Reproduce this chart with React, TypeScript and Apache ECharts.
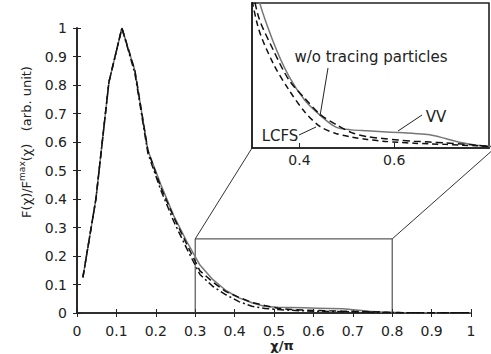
import React, { useEffect, useRef } from "react";
import * as echarts from "echarts";

// chi/pi sample positions
const X = [0.015, 0.048, 0.081, 0.114, 0.147, 0.18, 0.213, 0.246, 0.279, 0.312, 0.345, 0.378, 0.411, 0.444, 0.477, 0.51, 0.543, 0.576, 0.609, 0.642, 0.675, 0.708, 0.741, 0.774, 0.807, 0.84, 0.873, 0.906, 0.939, 0.972, 1.0];
// VV (solid grey)
const VV = [0.125, 0.4, 0.81, 1.0, 0.85, 0.57, 0.45, 0.34, 0.25, 0.168, 0.117, 0.079, 0.053, 0.036, 0.023, 0.02, 0.019, 0.018, 0.017, 0.016, 0.0145, 0.0105, 0.006, 0.003, 0.0015, 0.001, 0.001, 0.0008, 0.0007, 0.0006, 0.0005];
// w/o tracing particles (dashed)
const WO = [0.125, 0.4, 0.81, 1.0, 0.85, 0.57, 0.44, 0.335, 0.24, 0.148, 0.108, 0.075, 0.055, 0.037, 0.026, 0.017, 0.0125, 0.0105, 0.0088, 0.0075, 0.0065, 0.0055, 0.0045, 0.003, 0.0015, 0.001, 0.0009, 0.0008, 0.0007, 0.0006, 0.0005];
// LCFS (dash-dot)
const LCFS = [0.125, 0.4, 0.81, 1.0, 0.84, 0.56, 0.43, 0.32, 0.225, 0.135, 0.093, 0.064, 0.04, 0.0235, 0.016, 0.012, 0.0095, 0.0075, 0.0063, 0.0053, 0.0045, 0.004, 0.0032, 0.0025, 0.0015, 0.001, 0.0009, 0.0008, 0.0007, 0.0006, 0.0005];

const INSET_X_LABELS = [0.4, 0.6];
const ZOOM_BOX = { x0: 0.3, x1: 0.8, y0: 0, y1: 0.26 };

const FONT = "DejaVu Sans";
const INK = "#222";

const MAIN = { left: 77, top: 28, width: 394, height: 285 };
const INSET = { left: 252, top: 3, width: 237, height: 145 };

export default function App() {
  const ref = useRef<HTMLDivElement>(null);
  useEffect(() => {
    if (!ref.current) return;
    const chart = echarts.init(ref.current, null, { renderer: "svg" });
    const px = (x: number) => MAIN.left + x * MAIN.width;
    const py = (y: number) => MAIN.top + (1 - y) * MAIN.height;
    const pair = (arr: number[]) => X.map((x, i) => [x, arr[i]]);

    const axisLine = { show: true, lineStyle: { color: INK, width: 1.6 } };
    const mainX = (pos: "bottom" | "top", labels: boolean) => ({
      type: "value", gridIndex: 0, position: pos, min: 0, max: 1, interval: 0.1,
      axisLine, splitLine: { show: false },
      axisTick: { show: true, inside: true, length: 4, lineStyle: { color: INK, width: 1 } },
      axisLabel: { show: labels, fontFamily: FONT, fontSize: 14, color: INK, margin: 11 },
    });
    const mainY = (pos: "left" | "right", labels: boolean) => ({
      type: "value", gridIndex: 0, position: pos, min: 0, max: 1, interval: 0.1,
      axisLine, splitLine: { show: false },
      axisTick: { show: true, inside: true, length: 4, lineStyle: { color: INK, width: 1 } },
      axisLabel: { show: labels, fontFamily: FONT, fontSize: 14, color: INK, margin: 10 },
    });

    const solid = { color: "#777", width: 1.5, type: "solid" };
    const dashed = { color: "#111", width: 1.5, type: [7, 4] };
    const dashdot = { color: "#111", width: 1.5, type: [7, 3, 2, 3] };

    const mk = (name: string, arr: number[], ls: any, xi: number, yi: number, z: number, extra: any = {}) => ({
      type: "line", name, data: pair(arr), xAxisIndex: xi, yAxisIndex: yi, showSymbol: false,
      lineStyle: ls, itemStyle: { color: ls.color }, z, clip: true, ...extra,
    });

    chart.setOption({
      animation: false,
      backgroundColor: "#fff",
      grid: [
        { ...MAIN, show: false, z: 0 },
        { ...INSET, show: true, backgroundColor: "#fff", borderColor: INK, borderWidth: 1.6, z: 5 },
      ],
      xAxis: [
        mainX("bottom", true),
        mainX("top", false),
        {
          type: "value", gridIndex: 1, position: "bottom", min: 0.3, max: 0.8, z: 6,
          axisLine, splitLine: { show: false },
          axisTick: { show: true, inside: true, length: 5, customValues: INSET_X_LABELS, lineStyle: { color: INK } },
          axisLabel: { show: true, customValues: INSET_X_LABELS, fontFamily: FONT, fontSize: 14, color: INK, margin: 5 },
        },
      ],
      yAxis: [
        mainY("left", true),
        mainY("right", false),
        {
          type: "value", gridIndex: 1, min: 0, max: 0.16, z: 6,
          axisLine, splitLine: { show: false }, axisTick: { show: false }, axisLabel: { show: false },
        },
      ],
      series: [
        mk("VV", VV, solid, 0, 0, 2, {
          markArea: {
            silent: true,
            itemStyle: { color: "rgba(0,0,0,0)", borderColor: "#333", borderWidth: 1 },
            data: [[{ coord: [ZOOM_BOX.x0, ZOOM_BOX.y0] }, { coord: [ZOOM_BOX.x1, ZOOM_BOX.y1] }]],
          },
        }),
        mk("w/o tracing particles", WO, dashed, 0, 0, 3),
        mk("LCFS", LCFS, dashdot, 0, 0, 3),
        mk("VV inset", VV, solid, 2, 2, 7, { smooth: 0.3 }),
        mk("w/o inset", WO, dashed, 2, 2, 8, { smooth: 0.3 }),
        mk("LCFS inset", LCFS, { ...dashed, type: [6, 4] }, 2, 2, 8, { smooth: 0.3 }),
      ],
      graphic: [
        { type: "line", z: 1, shape: { x1: px(ZOOM_BOX.x0), y1: py(ZOOM_BOX.y1), x2: INSET.left, y2: INSET.top + INSET.height }, style: { stroke: "#333", lineWidth: 1 } },
        { type: "line", z: 1, shape: { x1: px(ZOOM_BOX.x1), y1: py(ZOOM_BOX.y1), x2: INSET.left + INSET.width + 6, y2: INSET.top + INSET.height }, style: { stroke: "#333", lineWidth: 1 } },
        {
          type: "text", z: 20, x: 25, y: 142, rotation: Math.PI / 2,
          style: {
            text: "{a|F(χ)/F}{s|max}{a|(χ)   (arb. unit)}",
            align: "center", verticalAlign: "middle", fill: INK,
            rich: {
              a: { fontFamily: FONT, fontSize: 13, fill: INK, lineHeight: 16, verticalAlign: "bottom" },
              s: { fontFamily: FONT, fontSize: 9, fill: INK, lineHeight: 16, verticalAlign: "top" },
            },
          },
        },
        { type: "text", z: 20, x: 282, y: 345, style: { text: "χ/π", fontFamily: FONT, fontSize: 13, fontWeight: "bold", fill: INK, align: "center", verticalAlign: "middle" } },
        { type: "text", z: 20, x: 371, y: 57, style: { text: "w/o tracing particles", fontFamily: FONT, fontSize: 15, fill: INK, align: "center", verticalAlign: "middle" } },
        { type: "text", z: 20, x: 436, y: 117, style: { text: "VV", fontFamily: FONT, fontSize: 15, fill: INK, align: "center", verticalAlign: "middle" } },
        { type: "text", z: 20, x: 280, y: 136, style: { text: "LCFS", fontFamily: FONT, fontSize: 15, fill: INK, align: "center", verticalAlign: "middle" } },
        { type: "line", z: 20, shape: { x1: 328, y1: 68, x2: 320, y2: 116 }, style: { stroke: INK, lineWidth: 1 } },
        { type: "line", z: 20, shape: { x1: 422, y1: 115, x2: 398, y2: 131 }, style: { stroke: INK, lineWidth: 1 } },
        { type: "line", z: 20, shape: { x1: 299, y1: 135, x2: 316, y2: 127 }, style: { stroke: INK, lineWidth: 1 } },
      ],
    });
    return () => chart.dispose();
  }, []);
  return <div ref={ref} style={{ position: "absolute", left: 0, top: 0, width: 491, height: 354 }} />;
}
